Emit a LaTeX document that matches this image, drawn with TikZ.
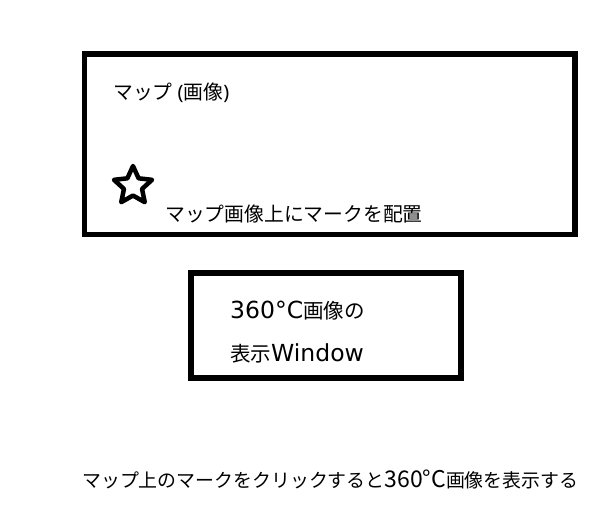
\documentclass[tikz,border=0pt]{standalone}
\usepackage{fontspec}
\setmainfont{Noto Sans CJK JP}
\newfontfamily\lat{Noto Sans}
\newfontfamily\widelat{DejaVu Sans}
\usetikzlibrary{shapes.geometric}
\begin{document}
\begin{tikzpicture}[x=1pt,y=-1pt,
  frame/.style={draw=black,line width=5.5pt},
  label/.style={inner sep=0pt,anchor=base west,font=\fontsize{19.8}{24}\selectfont}]
\useasboundingbox (0,0) rectangle (616,515);
\draw[frame] (84.5,54) rectangle (575,234.5);
\node[label] (maptitle) at (113,99) {マップ{\lat\ (}画像{\lat)}};
\node[star,star points=5,star point ratio=2.1,draw=black,line width=4.5pt,line join=round,minimum size=40pt,inner sep=0pt] (mark) at (133,186) {};
\node[label] (place) at (165,221) {マップ画像上にマークを配置};
\draw[frame] (191,273) rectangle (461,378);
\node[label,font=\fontsize{20.5}{24}\selectfont] (winA) at (230,318) {{\widelat\fontsize{23.5}{28}\selectfont 360°C}画像の};
\node[label,font=\fontsize{20.5}{24}\selectfont] (winB) at (230,361) {表示{\widelat\fontsize{23.5}{28}\selectfont Window}};
\node[label,font=\fontsize{18.9}{24}\selectfont] (desc) at (82,487) {マップ上のマークをクリックすると{\fontsize{23}{28}\selectfont 360°C}画像を表示する};
\end{tikzpicture}
\end{document}
